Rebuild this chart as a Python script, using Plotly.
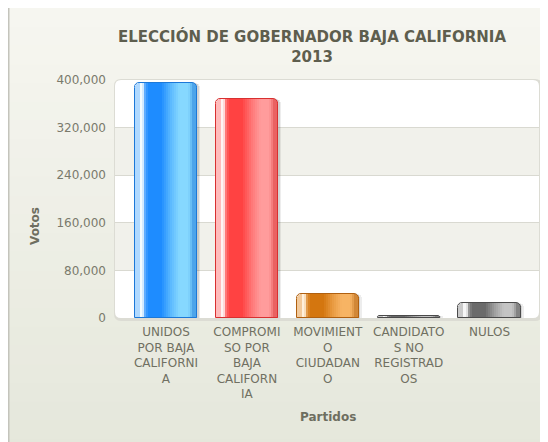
import plotly.graph_objects as go

# ---------------- data ----------------
categories = [
    "UNIDOS POR BAJA CALIFORNIA",
    "COMPROMISO POR BAJA CALIFORNIA",
    "MOVIMIENTO CIUDADANO",
    "CANDIDATOS NO REGISTRADOS",
    "NULOS",
]
tick_labels = [
    "UNIDOS<br>POR BAJA<br>CALIFORNI<br>A",
    "COMPROMI<br>SO POR<br>BAJA<br>CALIFORN<br>IA",
    "MOVIMIENT<br>O<br>CIUDADAN<br>O",
    "CANDIDATO<br>S NO<br>REGISTRAD<br>OS",
    "NULOS",
]
votes = [394500, 367500, 40000, 3000, 24500]
y_ticks = [0, 80000, 160000, 240000, 320000, 400000]

title_text = "ELECCIÓN DE GOBERNADOR BAJA CALIFORNIA<br>2013"
y_title = "Votos"
x_title = "Partidos"

# ---------------- style ----------------
W, H = 548, 442
L, R, T, B = 107, 531, 72, 310
PW, PH = R - L, B - T

# (edge, highlight, base, light)
palettes = [
    ("#1c78d8", "#f2fbff", "#1e8cff", "#86d8ff"),
    ("#d83030", "#fff3f3", "#ff4242", "#ff9c9c"),
    ("#b06010", "#fff0dc", "#d4760f", "#f7b464"),
    ("#4a4a4a", "#f6f6f6", "#6a6a6a", "#c4c4c4"),
    ("#4a4a4a", "#f6f6f6", "#6a6a6a", "#c4c4c4"),
]


def hex2rgb(h):
    h = h.lstrip("#")
    return [int(h[i:i + 2], 16) for i in (0, 2, 4)]


def mix(a, b, t):
    a, b = hex2rgb(a), hex2rgb(b)
    return "#%02x%02x%02x" % tuple(round(a[i] + (b[i] - a[i]) * t) for i in range(3))


def profile(pal, f):
    edge, hi, base, light = pal
    stops = [
        (0.00, mix(hi, base, 0.5)),
        (0.08, hi),
        (0.12, hi),
        (0.16, mix(hi, base, 0.7)),
        (0.21, base),
        (0.42, base),
        (0.58, mix(base, light, 0.6)),
        (0.72, light),
        (0.86, light),
        (0.93, mix(light, edge, 0.45)),
        (1.00, mix(light, edge, 0.6)),
    ]
    for (f0, c0), (f1, c1) in zip(stops, stops[1:]):
        if f0 <= f <= f1:
            return mix(c0, c1, (f - f0) / (f1 - f0))
    return edge


def px_x(px):
    return (px - L) / PW


def px_y(py):
    return (B - py) / PH


x0_range, x1_range = -0.63, 4.61
unit = PW / (x1_range - x0_range)  # px per category
bw = 0.77
bw_px = bw * unit
rad = 5

fig = go.Figure()


def bar(offset, width, colors, radius=0, line=None):
    fig.add_trace(go.Bar(
        x=categories, y=votes, width=width, offset=offset,
        marker=dict(color=colors, cornerradius=radius,
                    line=line or dict(width=0)),
        hoverinfo="skip", showlegend=False))


# soft shadow
bar(-bw / 2 + 3 / unit, bw, "rgba(0,0,0,0.07)", rad)
bar(-bw / 2 + 1.5 / unit, bw, "rgba(0,0,0,0.10)", rad)
# left and right base bodies
bar(-bw / 2, bw, [profile(p, 0.03) for p in palettes], rad)
bar(0, bw / 2, [profile(p, 0.97) for p in palettes], rad)
# gradient strips in the interior
m = rad / bw_px
N = 26
sw = bw * (1 - 2 * m) / N
for i in range(N):
    f = m + (i + 0.5) * (1 - 2 * m) / N
    bar(-bw / 2 + bw * m + i * sw, sw * 1.12, [profile(p, f) for p in palettes])
# outline
bar(-bw / 2, bw, "rgba(0,0,0,0)", rad,
    dict(width=1, color=[p[0] for p in palettes]))

shapes = []
# background gradient of chart container
top_c, bot_c = "#f6f6f0", "#e5e7db"
ns = 24
y_start, y_end = 0, 450
for k in range(ns):
    ya = y_start + (y_end - y_start) * k / ns
    yb = y_start + (y_end - y_start) * (k + 1) / ns
    shapes.append(dict(type="rect", xref="paper", yref="paper", layer="below",
                       x0=px_x(0), x1=px_x(600), y0=px_y(ya), y1=px_y(yb + 1),
                       fillcolor=mix(top_c, bot_c, k / (ns - 1)), line=dict(width=0)))
shapes.append(dict(type="rect", xref="paper", yref="paper", layer="below",
                   x0=px_x(0), x1=px_x(610), y0=px_y(-2), y1=px_y(470),
                   fillcolor="rgba(0,0,0,0)", line=dict(color="#c4c4bc", width=3)))


def rrect(xa, ya, xb, yb, r):
    # rounded rectangle in pixel coords -> paper path
    rx, ry = r / PW, r / PH
    X0, X1 = px_x(xa), px_x(xb)
    Y0, Y1 = px_y(yb), px_y(ya)  # bottom, top in paper
    return (f"M {X0+rx},{Y1} L {X1-rx},{Y1} Q {X1},{Y1} {X1},{Y1-ry} "
            f"L {X1},{Y0+ry} Q {X1},{Y0} {X1-rx},{Y0} L {X0+rx},{Y0} "
            f"Q {X0},{Y0} {X0},{Y0+ry} L {X0},{Y1-ry} Q {X0},{Y1} {X0+rx},{Y1} Z")


shapes.append(dict(type="path", xref="paper", yref="paper", layer="below",
                   path=rrect(L - 1, T - 1, R + 3, B + 3, 7),
                   fillcolor="#dcdcd4", line=dict(width=0)))
shapes.append(dict(type="path", xref="paper", yref="paper", layer="below",
                   path=rrect(L, T, R, B, 6),
                   fillcolor="#ffffff", line=dict(width=0)))
for a, b in [(80000, 160000), (240000, 320000)]:
    shapes.append(dict(type="rect", xref="paper", yref="y", layer="below",
                       x0=0, x1=1, y0=a, y1=b,
                       fillcolor="#f1f1eb", line=dict(width=0)))

font_family = "DejaVu Sans, Verdana, sans-serif"
annotations = [
    dict(text=f"<b>{title_text}</b>", xref="paper", yref="paper",
         x=px_x(303.5), y=px_y(38), xanchor="center", yanchor="middle",
         showarrow=False, align="center",
         font=dict(family=font_family, size=15, color="#5e5e4e")),
    dict(text=f"<b>{y_title}</b>", xref="paper", yref="paper",
         x=px_x(27), y=px_y(218), xanchor="center", yanchor="middle",
         textangle=-90, showarrow=False,
         font=dict(family=font_family, size=12, color="#6e6e60")),
    dict(text=f"<b>{x_title}</b>", xref="paper", yref="paper",
         x=px_x(320), y=px_y(409), xanchor="center", yanchor="middle",
         showarrow=False,
         font=dict(family=font_family, size=12, color="#6e6e60")),
]

fig.update_layout(
    width=W, height=H,
    margin=dict(l=L, r=W - R, t=T, b=H - B, pad=0),
    paper_bgcolor="#ffffff",
    plot_bgcolor="rgba(0,0,0,0)",
    barmode="overlay",
    bargap=0,
    showlegend=False,
    shapes=shapes,
    annotations=annotations,
    xaxis=dict(
        type="category",
        range=[x0_range, x1_range],
        tickmode="array", tickvals=categories, ticktext=tick_labels,
        showgrid=False, zeroline=False, showline=False, ticks="",
        ticklabelstandoff=5,
        tickfont=dict(family=font_family, size=12, color="#707062"),
        fixedrange=True,
    ),
    yaxis=dict(
        range=[0, 400000],
        tickmode="array", tickvals=y_ticks,
        tickformat=",",
        showgrid=True, gridcolor="#d9d9d1", gridwidth=1,
        zeroline=False, showline=False, ticks="",
        ticklabelstandoff=8,
        tickfont=dict(family=font_family, size=12, color="#7a7a6c"),
        fixedrange=True,
    ),
)

fig.write_html("out.html")
